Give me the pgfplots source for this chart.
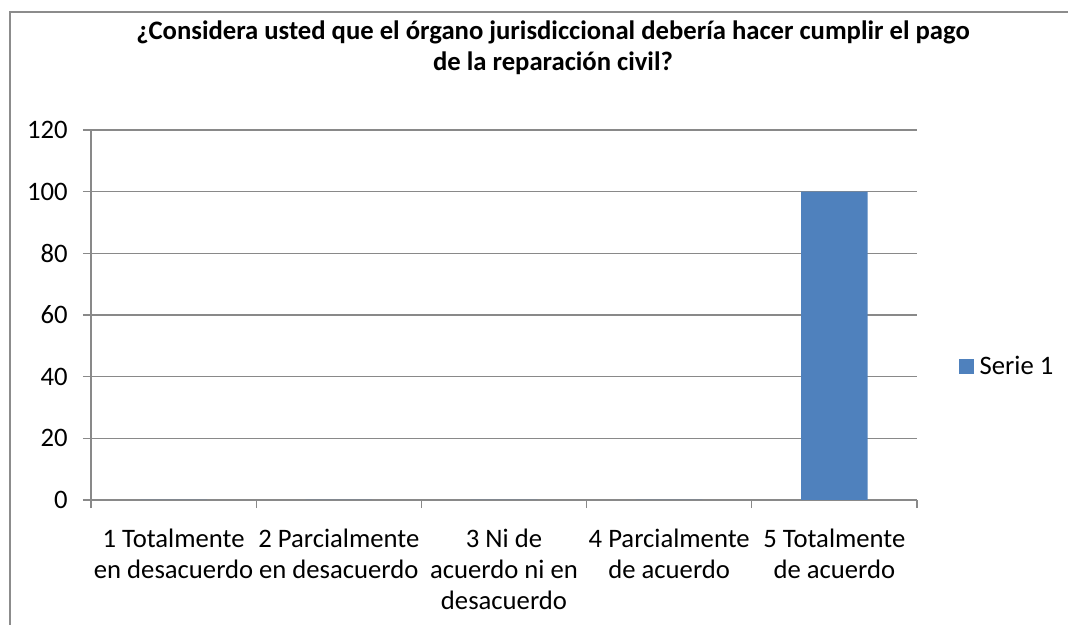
\documentclass[border=0pt]{standalone}
\usepackage{fontspec}
\setmainfont{Carlito}
\usepackage{pgfplots}
\pgfplotsset{compat=1.18}
\definecolor{barblue}{HTML}{4F81BD}
\definecolor{gridc}{HTML}{898989}
\definecolor{framec}{HTML}{8C8C8C}
\begin{document}
\begin{tikzpicture}[x=0.75pt,y=0.75pt]
\useasboundingbox (0,0) rectangle (1068,625);
\draw[framec, line width=1pt] (10,0) -- (10,613) -- (1068,613);
\node[align=center, font=\fontsize{20}{23}\selectfont\bfseries] at (553,577)
  {¿Considera usted que el órgano jurisdiccional debería hacer cumplir el pago\\de la reparación civil?};
\begin{axis}[
  at={(68.25pt,93.75pt)}, anchor=south west,
  scale only axis, width=619.5pt, height=277.5pt,
  font=\fontsize{20}{23.5}\selectfont,
  /pgf/number format/assume math mode=true,
  axis lines=left, axis line style={-, gridc, line width=0.9pt},
  xmin=0.5, xmax=5.5, ymin=0, ymax=120,
  ytick={0,20,...,120},
  ymajorgrids, grid style={gridc, line width=0.9pt},
  xtick={0.5,1.5,...,5.5},
  x tick label as interval,
  xticklabels={1 Totalmente\\en desacuerdo, 2 Parcialmente\\en desacuerdo, 3 Ni de\\acuerdo ni en\\desacuerdo, 4 Parcialmente\\de acuerdo, 5 Totalmente\\de acuerdo},
  xticklabel style={align=center, yshift=-12pt},
  yticklabel style={xshift=-8pt},
  tick style={gridc, line width=0.9pt},
  tick align=outside, major tick length=6pt,
  legend style={draw=none, at={(1.046,0.362)}, anchor=west, fill=none,
    legend cell align=left},
  legend image code/.code={\fill[#1] (0pt,-5.6pt) rectangle (11.25pt,5.6pt);},
]
\addplot[ybar, fill=barblue, draw=none, bar width=50pt] coordinates {(1,0) (2,0) (3,0) (4,0) (5,100)};
\addlegendentry{\hspace{2pt}Serie 1}
\end{axis}
\end{tikzpicture}
\end{document}
